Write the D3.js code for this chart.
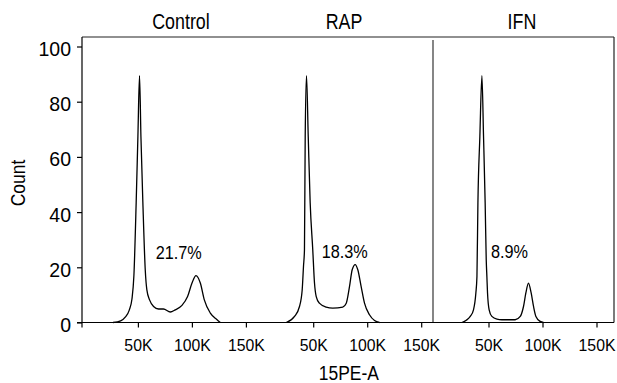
<!DOCTYPE html>
<html><head><meta charset="utf-8">
<script src="https://cdn.jsdelivr.net/npm/d3@7"></script>
<style>
body{margin:0;background:#fff}
svg{display:block}
text{font-family:"Liberation Sans Narrow","Arial Narrow","Liberation Sans",Arial,sans-serif;fill:#000}
</style>
</head><body>
<svg id="c" width="617" height="383"></svg>
<script>
// ---- data ----
const panels = ["Control", "RAP", "IFN"];
const percentLabels = ["21.7%", "18.3%", "8.9%"];
const yTicks = [0, 20, 40, 60, 80, 100];
const xTicks = [50000, 100000, 150000];
const xTickLabels = ["50K", "100K", "150K"];
const xTitle = "15PE-A";
const yTitle = "Count";

// histogram outlines (PE-A value, count)
const controlX = [27000, 34000, 38500, 42000, 44500, 46300, 48400, 50000, 51500, 52800, 54600, 56800, 58300, 60800, 64500, 69100, 73700, 80000, 84600, 90800, 96000, 100100, 103800, 107800, 111500, 117100, 123300, 126300];
const controlY = [0, 0.6, 2.0, 4.5, 8.5, 17.0, 43.4, 67.4, 89.4, 67.4, 43.4, 19.1, 11.8, 8.2, 5.8, 4.9, 4.9, 3.8, 4.6, 6.2, 9.4, 14.3, 17.0, 14.3, 8.2, 3.4, 1.0, 0];
const rapX = [25000, 32700, 37300, 39800, 41000, 41900, 42600, 43800, 45400, 47200, 49600, 51200, 52800, 55700, 62000, 68100, 77400, 80600, 83600, 86100, 88900, 91300, 94400, 97500, 102100, 106800, 111400];
const rapY = [0, 2.2, 5.8, 11.8, 20.3, 26.3, 67.4, 89.4, 67.4, 43.4, 26.3, 14.3, 9.4, 7.0, 5.6, 5.2, 5.6, 7.0, 13.0, 19.1, 21.0, 19.1, 13.0, 7.0, 2.8, 0.7, 0];
const ifnX = [25400, 29400, 33100, 36100, 38300, 39300, 40200, 42000, 43900, 45400, 46900, 47900, 48500, 49100, 50600, 53100, 57800, 62400, 74700, 79400, 82400, 84600, 87000, 89500, 91700, 93900, 97900, 100900];
const ifnY = [0, 0.8, 2.2, 4.6, 10.7, 16.7, 43.4, 67.4, 89.4, 67.4, 43.4, 22.7, 16.7, 10.7, 4.6, 2.2, 1.2, 1.0, 1.0, 2.2, 5.8, 10.7, 14.3, 10.7, 5.8, 2.2, 0.4, 0];

const seriesX = [controlX, rapX, ifnX];
const seriesY = [controlY, rapY, ifnY];

// ---- layout ----
const mLeft = 82, mRight = 614, mTop = 37, mBottom = 322.5;
const panelStart = 83.9, panelStep = 175.3, pxPerUnit = 1.08 / 1000;
const titleX = [181, 344, 522];
const labelAnchor = [[66500, 23], [57900, 23.3], [52300, 23.3]];

const svg = d3.select("#c");

const y = d3.scaleLinear().domain([0, (mBottom - mTop) / 2.76]).range([mBottom, mTop]);
const xs = panels.map((p, i) => {
  const x0 = panelStart + panelStep * i;
  return d3.scaleLinear().domain([0, 160000]).range([x0, x0 + 160000 * pxPerUnit]);
});

// frame: top & right
svg.append("line").attr("x1", mLeft).attr("x2", mRight).attr("y1", mTop).attr("y2", mTop)
  .attr("stroke", "#222").attr("stroke-width", 1.2);
svg.append("line").attr("x1", mRight).attr("x2", mRight).attr("y1", mTop).attr("y2", mBottom)
  .attr("stroke", "#222").attr("stroke-width", 1.2);
// separator between RAP and IFN
svg.append("line").attr("x1", 433).attr("x2", 433).attr("y1", 40).attr("y2", mBottom)
  .attr("stroke", "#444").attr("stroke-width", 1.3);

// y axis
const ya = svg.append("g").attr("transform", `translate(${mLeft},0)`)
  .call(d3.axisLeft(y).tickValues(yTicks).tickSize(5).tickSizeOuter(0).tickPadding(6));
ya.select(".domain").remove();
ya.attr("font-family", null);
ya.selectAll(".tick line").attr("stroke", "#000").attr("stroke-width", 1.2);
ya.selectAll(".tick text").attr("font-size", 21).attr("dy", "0.43em");
svg.append("line").attr("x1", mLeft).attr("x2", mLeft).attr("y1", mTop).attr("y2", mBottom + 5)
  .attr("stroke", "#000").attr("stroke-width", 1.2);

// x axes
xs.forEach((xs_i) => {
  const g = svg.append("g").attr("transform", `translate(0,${mBottom})`)
    .call(d3.axisBottom(xs_i).tickValues(xTicks).tickFormat((d, j) => xTickLabels[j])
      .tickSize(5).tickSizeOuter(0).tickPadding(11));
  g.select(".domain").remove();
  g.attr("font-family", null);
  g.selectAll(".tick line").attr("stroke", "#000").attr("stroke-width", 1.2);
  g.selectAll(".tick text").attr("font-size", 17);
});
svg.append("line").attr("x1", mLeft - 5).attr("x2", mRight).attr("y1", mBottom).attr("y2", mBottom)
  .attr("stroke", "#000").attr("stroke-width", 1.2);

// curves
const line = d3.line().curve(d3.curveMonotoneX);
panels.forEach((p, i) => {
  const pts = seriesX[i].map((v, k) => [xs[i](v), y(seriesY[i][k])]);
  svg.append("path").attr("d", line(pts)).attr("fill", "none")
    .attr("stroke", "#000").attr("stroke-width", 1.3).attr("stroke-linejoin", "round");
});

// panel titles
panels.forEach((p, i) => {
  svg.append("text").attr("x", titleX[i]).attr("y", 29.3).attr("text-anchor", "middle")
    .attr("font-size", 21.5).text(p);
});

// percent labels
percentLabels.forEach((t, i) => {
  svg.append("text").attr("x", xs[i](labelAnchor[i][0])).attr("y", y(labelAnchor[i][1]))
    .attr("font-size", 17.5).text(t);
});

// axis titles
svg.append("text").attr("x", 348.8).attr("y", 380).attr("text-anchor", "middle")
  .attr("font-size", 21).text(xTitle);
svg.append("text").attr("transform", "translate(25,183) rotate(-90)").attr("text-anchor", "middle")
  .attr("font-size", 21).text(yTitle);

// condensed look (no condensed font installed): horizontal squeeze around each anchor
svg.selectAll("text").each(function () {
  const t = d3.select(this);
  const s = /^[\d.%K]+$/.test(t.text()) ? 0.93 : 0.83;
  const x = +t.attr("x") || 0;
  const prev = t.attr("transform");
  if (prev) t.attr("transform", prev + ` scale(${s},1)`);
  else t.attr("transform", `translate(${x},0) scale(${s},1) translate(${-x},0)`);
});
</script>
</body></html>
